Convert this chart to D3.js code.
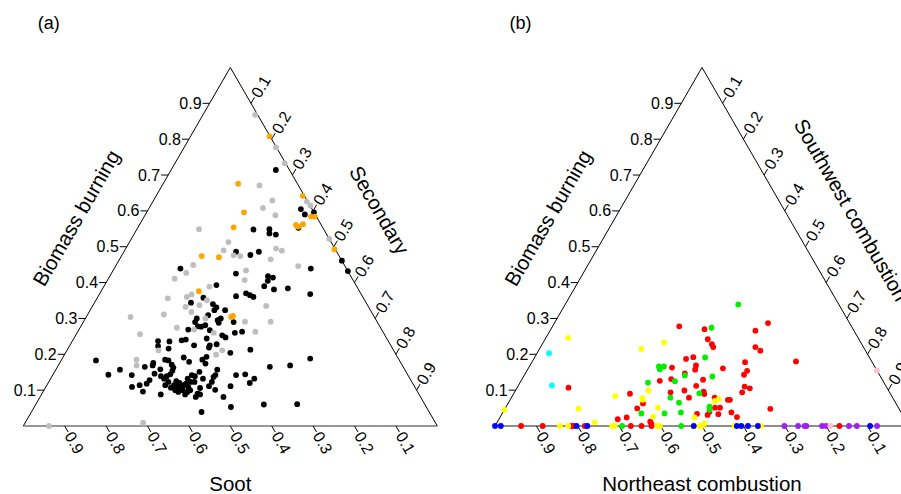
<!DOCTYPE html>
<html>
<head>
<meta charset="utf-8">
<title>Ternary plots</title>
<script src="https://cdn.jsdelivr.net/npm/d3@7"></script>
<style>
  body { margin: 0; background: #fff; }
  text { font-family: "Liberation Sans", Arial, Helvetica, sans-serif; fill: #000; }
</style>
</head>
<body>
<script>
  // tick values, shared by the three axes
  const ticks = [0.1, 0.2, 0.3, 0.4, 0.5, 0.6, 0.7, 0.8, 0.9];

  // panel (a): [biomass burning, secondary], soot = 1 - both
  const aBlack = [
    [0.714,0.253],[0.605,0.368],[0.590,0.385],[0.596,0.404],[0.553,0.388],[0.548,0.282],
    [0.549,0.320],[0.537,0.326],[0.534,0.343],[0.486,0.271],[0.477,0.310],[0.486,0.326],
    [0.461,0.539],[0.432,0.568],[0.183,0.084],
    [0.439,0.160],[0.439,0.475],[0.425,0.301],[0.418,0.382],[0.414,0.396],[0.405,0.388],
    [0.393,0.270],[0.390,0.387],[0.381,0.415],[0.384,0.447],[0.370,0.353],[0.365,0.365],
    [0.360,0.376],[0.362,0.333],[0.368,0.509],[0.358,0.256],[0.344,0.233],[0.340,0.288],
    [0.331,0.301],[0.323,0.300],[0.323,0.326],[0.309,0.292],[0.290,0.363],[0.300,0.269],
    [0.290,0.270],[0.278,0.283],[0.295,0.322],[0.300,0.327],[0.288,0.328],[0.267,0.317],
    [0.277,0.291],[0.269,0.264],[0.263,0.397],[0.260,0.381],[0.253,0.354],[0.247,0.365],
    [0.239,0.263],[0.241,0.272],[0.244,0.321],[0.225,0.300],[0.225,0.338],[0.219,0.339],
    [0.228,0.353],[0.237,0.207],[0.236,0.235],[0.223,0.214],[0.216,0.243],[0.213,0.442],
    [0.204,0.398],[0.188,0.599],[0.185,0.250],[0.183,0.259],[0.191,0.292],[0.179,0.311],
    [0.185,0.340],[0.193,0.346],[0.174,0.353],[0.176,0.226],[0.169,0.228],[0.165,0.211],
    [0.171,0.273],[0.165,0.513],[0.169,0.560],[0.157,0.390],[0.142,0.393],[0.137,0.391],
    [0.151,0.350],[0.139,0.345],[0.142,0.336],[0.158,0.252],[0.163,0.281],[0.154,0.283],
    [0.144,0.283],[0.139,0.277],[0.139,0.263],[0.146,0.244],[0.142,0.191],[0.157,0.155],
    [0.143,0.134],[0.142,0.443],[0.144,0.464],[0.128,0.241],[0.118,0.239],[0.114,0.224],
    [0.109,0.208],[0.096,0.241],[0.088,0.288],[0.107,0.303],[0.114,0.307],[0.100,0.317],
    [0.109,0.316],[0.120,0.317],[0.107,0.329],[0.114,0.330],[0.118,0.334],[0.109,0.344],
    [0.123,0.343],[0.095,0.349],[0.100,0.335],[0.090,0.376],[0.081,0.376],[0.088,0.383],
    [0.132,0.368],[0.106,0.374],[0.111,0.393],[0.123,0.394],[0.101,0.413],[0.081,0.443],
    [0.111,0.445],[0.120,0.487],[0.132,0.492],[0.053,0.475],[0.060,0.551],[0.061,0.631],
    [0.039,0.411],[0.132,0.274],[0.123,0.289],[0.114,0.286],[0.095,0.327],[0.088,0.347],
    [0.100,0.353],[0.125,0.307],[0.132,0.331],[0.123,0.352],[0.281,0.299]
  ];
  const aGray = [
    [0.868,0.126],[0.777,0.222],[0.733,0.265],[0.671,0.235],[0.629,0.287],[0.608,0.275],
    [0.588,0.315],[0.626,0.372],[0.615,0.386],[0.549,0.150],[0.513,0.239],[0.490,0.239],
    [0.476,0.270],[0.474,0.287],[0.495,0.363],[0.489,0.380],[0.465,0.365],[0.522,0.478],
    [0.449,0.186],[0.427,0.180],[0.411,0.160],[0.434,0.321],[0.407,0.331],[0.446,0.441],
    [0.389,0.255],[0.356,0.171],[0.360,0.215],[0.367,0.223],[0.351,0.268],[0.337,0.257],
    [0.332,0.226],[0.311,0.184],[0.304,0.107],[0.318,0.247],[0.335,0.419],[0.291,0.390],
    [0.263,0.429],[0.291,0.452],[0.274,0.234],[0.269,0.278],[0.260,0.330],[0.256,0.154],
    [0.211,0.221],[0.185,0.181],[0.169,0.189],[0.199,0.366],[0.211,0.375],[0.009,0.285],
    [0.000,0.062],[0.300,0.290]
  ];
  const aOrange = [
    [0.808,0.191],[0.676,0.181],[0.596,0.235],[0.554,0.231],[0.642,0.354],[0.561,0.378],
    [0.556,0.386],[0.563,0.394],[0.584,0.403],[0.584,0.412],[0.493,0.505],[0.474,0.194],
    [0.471,0.237],[0.376,0.236],[0.304,0.350],[0.307,0.353]
  ];

  // panel (b): [biomass burning, southwest combustion], northeast = 1 - both
  const bRed = [
    [0,0.063],[0,0.115],[0,0.185],[0,0.191],[0,0.217],[0,0.328],[0,0.354],[0,0.378],[0,0.832],
    [0.278,0.306],[0.270,0.371],[0.242,0.393],[0.228,0.410],[0.220,0.417],[0.266,0.496],
    [0.287,0.516],[0.220,0.519],[0.210,0.536],[0.180,0.637],[0.187,0.368],[0.192,0.383],
    [0.169,0.401],[0.157,0.405],[0.163,0.346],[0.131,0.360],[0.126,0.335],[0.147,0.385],
    [0.161,0.470],[0.178,0.515],[0.154,0.532],[0.143,0.530],[0.110,0.548],[0.105,0.563],
    [0.094,0.550],[0.129,0.438],[0.112,0.430],[0.096,0.456],[0.089,0.461],[0.094,0.377],
    [0.099,0.408],[0.079,0.429],[0.090,0.281],[0.063,0.326],[0.049,0.319],[0.079,0.491],
    [0.051,0.506],[0.051,0.518],[0.073,0.526],[0.038,0.552],[0.025,0.572],[0.033,0.523],
    [0.031,0.498],[0.040,0.498],[0.034,0.471],[0.048,0.641],[0.019,0.287],[0.024,0.306],
    [0.012,0.369],[0.006,0.375],[0.073,0.531],[0.107,0.124]
  ];
  const bGreen = [
    [0,0.307],[0,0.450],
    [0.339,0.418],[0.274,0.386],[0.191,0.412],[0.138,0.456],[0.166,0.313],[0.158,0.319],
    [0.166,0.325],[0.121,0.309],[0.125,0.372],[0.141,0.388],[0.091,0.448],[0.079,0.384],
    [0.065,0.412],[0.035,0.336],[0.035,0.392],[0.038,0.430],[0.054,0.491],[0.045,0.496]
  ];
  const bYellow = [
    [0,0.157],[0,0.177],[0,0.283],[0,0.289],[0,0.392],[0,0.398],[0,0.494],[0,0.500],[0,0.579],[0,0.643],
    [0.215,0.246],[0.233,0.292],[0.083,0.249],[0.099,0.321],[0.078,0.317],[0.073,0.320],
    [0.051,0.368],[0.026,0.369],[0.075,0.503],[0.070,0.496],[0.024,0.470],[0.007,0.502],
    [0.010,0.236],[0.246,0.054],[0.045,0.000],[0.048,0.178]
  ];
  const bBlue = [[0,0],[0,0.014],[0,0.197],[0,0.223],[0,0.480],[0,0.584],[0,0.595],[0,0.611],[0,0.635],[0,0.906]];
  const bCyan = [[0.203,0.029],[0.113,0.081]];
  const bPurple = [[0,0.699],[0,0.732],[0,0.748],[0,0.752],[0,0.790],[0,0.800],[0,0.855],[0,0.874],[0,0.923]];
  const bPink = [[0,0.810],[0.155,0.845]];

  const width = 901, height = 494;
  const side = 414;
  const tri = side * Math.sqrt(3) / 2;
  const base = 426;
  const tickLen = 7;
  const r = 2.9;

  const svg = d3.select('body').append('svg')
    .attr('width', width)
    .attr('height', height);

  function panel(opt) {
    const g = svg.append('g');
    const x = d3.scaleLinear().domain([0, 1]).range([opt.left, opt.left + side]);
    const y = d3.scaleLinear().domain([0, 1]).range([base, base - tri]);
    // b = top component, c = right component
    const px = d => x(d[1] + d[0] / 2);
    const py = d => y(d[0]);

    // triangle
    g.append('path')
      .attr('d', `M${x(0)},${y(0)} L${x(0.5)},${y(1)} L${x(1)},${y(0)}`)
      .attr('fill', 'none').attr('stroke', '#000').attr('stroke-width', 1);
    g.append('line')
      .attr('x1', x(0)).attr('x2', x(1)).attr('y1', y(0)).attr('y2', y(0))
      .attr('stroke', opt.baseColor).attr('stroke-width', opt.baseWidth);

    const c60 = 0.5, s60 = Math.sqrt(3) / 2;

    // left axis
    ticks.forEach(t => {
      const x0 = x(t / 2), y0 = y(t);
      g.append('line').attr('x1', x0).attr('y1', y0).attr('x2', x0 - tickLen).attr('y2', y0)
        .attr('stroke', '#000');
      g.append('text').attr('x', x0 - tickLen - 1).attr('y', y0).attr('dy', '0.35em')
        .attr('text-anchor', 'end').attr('font-size', 16).text(t);
    });
    // right axis
    ticks.forEach(t => {
      const x0 = x((1 + t) / 2), y0 = y(1 - t);
      const x1 = x0 + c60 * tickLen, y1 = y0 - s60 * tickLen;
      g.append('line').attr('x1', x0).attr('y1', y0).attr('x2', x1).attr('y2', y1)
        .attr('stroke', '#000');
      g.append('text').attr('transform', `translate(${x1 + 0.6},${y1 - 1}) rotate(-60)`)
        .attr('dy', '0.35em').attr('font-size', 16).text(t);
    });
    // bottom axis
    ticks.forEach(t => {
      const x0 = x(1 - t), y0 = y(0);
      const x1 = x0 + c60 * tickLen, y1 = y0 + s60 * tickLen;
      g.append('line').attr('x1', x0).attr('y1', y0).attr('x2', x1).attr('y2', y1)
        .attr('stroke', '#000');
      g.append('text').attr('transform', `translate(${x1 + 0.6},${y1 + 1}) rotate(60)`)
        .attr('dy', '0.35em').attr('font-size', 16).text(t);
    });

    // titles
    g.append('text').attr('transform', `translate(${opt.left + 53},218) rotate(-60)`)
      .attr('text-anchor', 'middle').attr('dy', '0.35em').attr('font-size', 20.5).text(opt.leftTitle);
    g.append('text').attr('transform', `translate(${opt.left + 356},210) rotate(60)`)
      .attr('text-anchor', 'middle').attr('dy', '0.35em').attr('font-size', 20.5).text(opt.rightTitle);
    g.append('text').attr('x', opt.left + 207).attr('y', 491)
      .attr('text-anchor', 'middle').attr('font-size', 20.5).text(opt.bottomTitle);
    g.append('text').attr('x', opt.left + 25.5).attr('y', 29)
      .attr('text-anchor', 'middle').attr('font-size', 18).text(opt.tag);

    // points
    opt.groups.forEach(([data, col]) => {
      g.append('g').selectAll('circle').data(data).enter()
        .append('circle')
        .attr('cx', px).attr('cy', py).attr('r', r)
        .attr('fill', col);
    });
  }

  panel({
    left: 23.3, tag: '(a)',
    leftTitle: 'Biomass burning', rightTitle: 'Secondary', bottomTitle: 'Soot',
    baseColor: '#333', baseWidth: 1.2,
    groups: [[aBlack, '#000000'], [aGray, '#bebebe'], [aOrange, '#ffa500']]
  });
  panel({
    left: 495, tag: '(b)',
    leftTitle: 'Biomass burning', rightTitle: 'Southwest combustion', bottomTitle: 'Northeast combustion',
    baseColor: '#666', baseWidth: 1.6,
    groups: [[bRed, '#ff0000'], [bGreen, '#00ee00'], [bYellow, '#ffff00'], [bBlue, '#0000ff'],
             [bCyan, '#00ffff'], [bPurple, '#a020f0'], [bPink, '#ffc0cb']]
  });
</script>
</body>
</html>
